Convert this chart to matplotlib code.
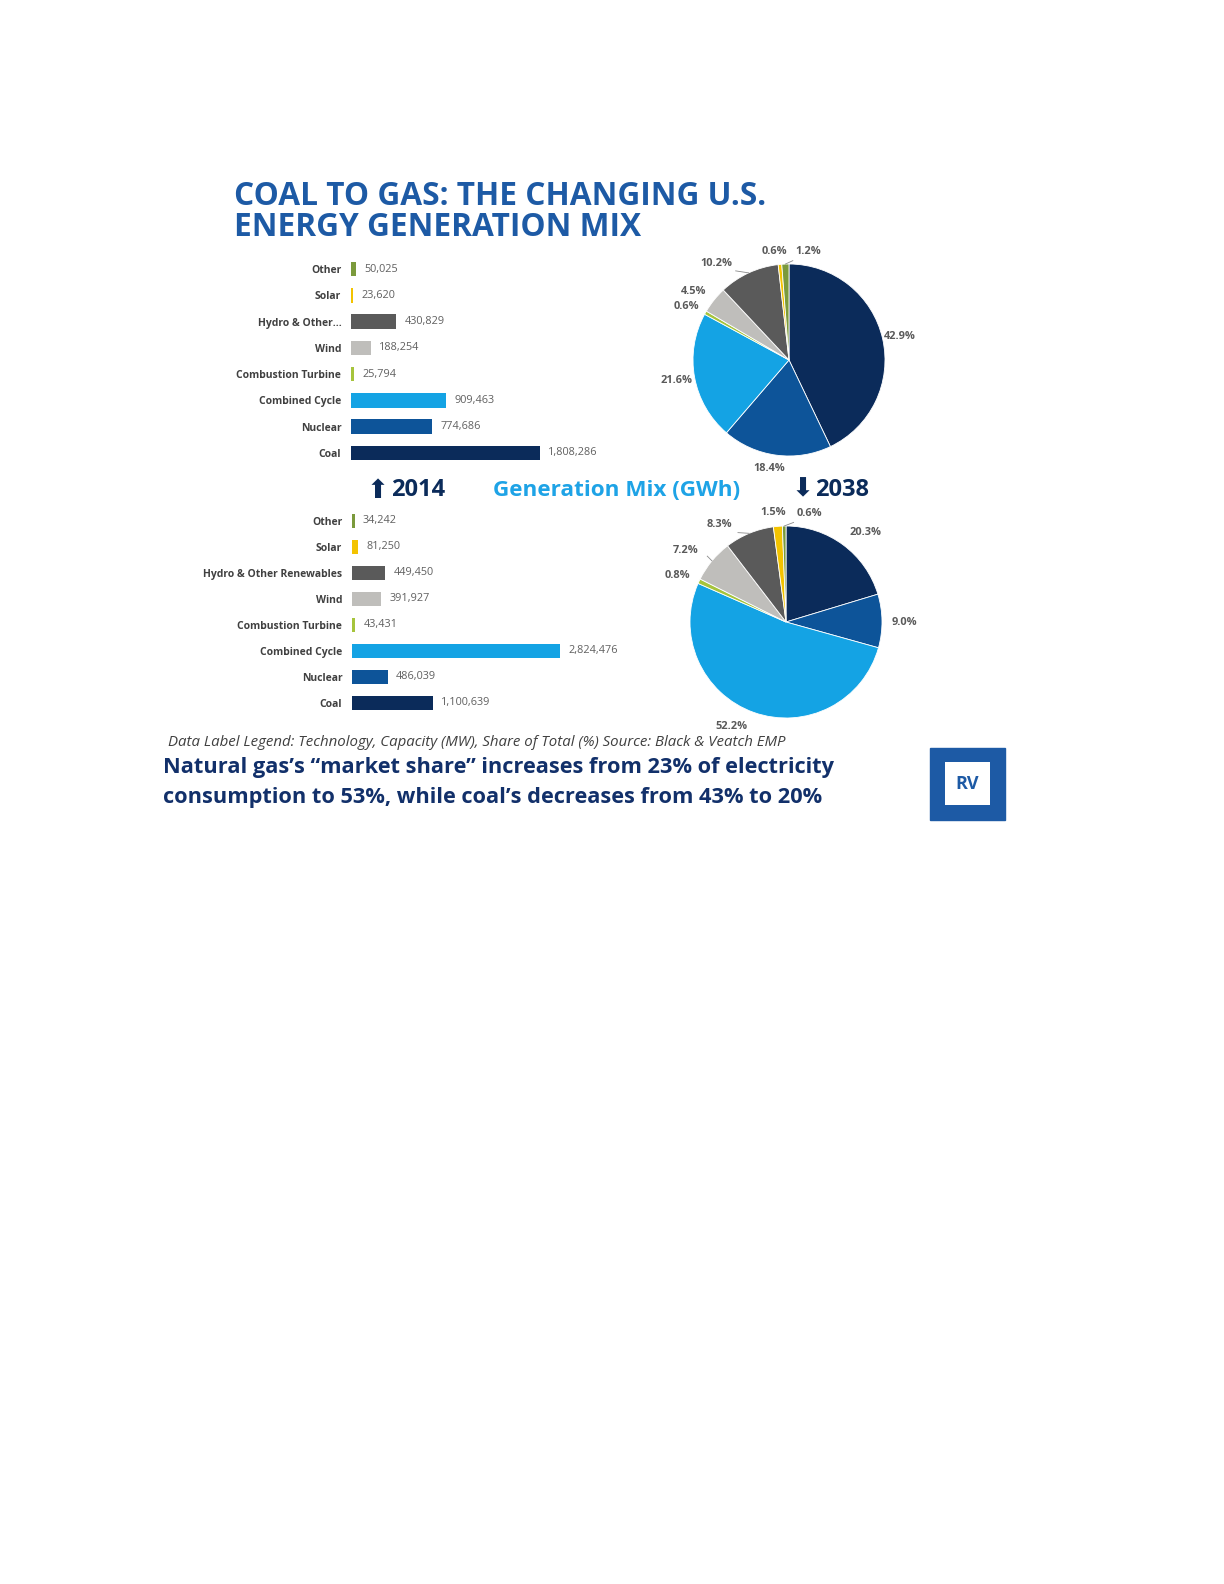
import numpy as np
import matplotlib
matplotlib.use("Agg")
import matplotlib.pyplot as plt
from matplotlib.patches import Rectangle

plt.rcParams['font.family'] = ['Open Sans', 'DejaVu Sans']

W, H = 1224, 1584

# data
techs = ["Coal", "Nuclear", "Combined Cycle", "Combustion Turbine",
         "Wind", "Hydro & Other Renewables", "Solar", "Other"]
techs_2014 = ["Coal", "Nuclear", "Combined Cycle", "Combustion Turbine",
              "Wind", "Hydro & Other\u2026", "Solar", "Other"]
cap_2014 = [1808286, 774686, 909463, 25794, 188254, 430829, 23620, 50025]
cap_2038 = [1100639, 486039, 2824476, 43431, 391927, 449450, 81250, 34242]
share_2014 = [42.9, 18.4, 21.6, 0.6, 4.5, 10.2, 0.6, 1.2]
share_2038 = [20.3, 9.0, 52.2, 0.8, 7.2, 8.3, 1.5, 0.6]

colors = ["#0b2b5a", "#0d5499", "#14a3e4", "#a6c43c",
          "#bfbebb", "#5a5a5a", "#f3c300", "#7b9a3c"]

# label layout for the pies (angle nudge in degrees, radius factor, leader line)
nudge_2014 = [-1, -3, 0, 2, 3, 12, 2, -12]
dist_2014 = [1.18, 1.15, 1.19, 1.21, 1.22, 1.26, 1.14, 1.15]
lead_2014 = [False, False, False, False, False, True, False, True]
nudge_2038 = [-5, -1, -8, 2, 4, 12, 2, -13]
dist_2038 = [1.25, 1.23, 1.23, 1.23, 1.28, 1.23, 1.15, 1.16]
lead_2038 = [False, False, False, False, True, True, False, True]


def box(x0, y0, x1, y1):
    return [x0 / W, 1 - y1 / H, (x1 - x0) / W, (y1 - y0) / H]


def fx(x):
    return x / W


def fy(y):
    return 1 - y / H


def bar_panel(ax, names, vals, xmax):
    y = np.arange(len(vals))
    ax.barh(y, vals, height=0.55, color=colors)
    ax.set_xlim(0, xmax)
    ax.set_ylim(-0.5, len(vals) - 0.5)
    ax.set_yticks(y)
    ax.set_yticklabels(names, fontsize=7.5, fontweight='bold', color='#404040')
    ax.tick_params(axis='y', length=0, pad=7)
    ax.set_xticks([])
    for s in ax.spines.values():
        s.set_visible(False)
    for yi, v in zip(y, vals):
        ax.annotate(f"{v:,}", (v, yi), xytext=(6, 0), textcoords='offset points',
                    va='center', ha='left', fontsize=7.8, color='#606060')


def pie_panel(ax, shares, nudge, dist, lead):
    wedges, _ = ax.pie(shares, colors=colors, startangle=90, counterclock=False,
                       wedgeprops=dict(edgecolor='white', linewidth=0.6))
    ax.set_xlim(-1, 1)
    ax.set_ylim(-1, 1)
    ax.set_aspect('equal')
    for w, s, n, d, ld in zip(wedges, shares, nudge, dist, lead):
        mid = np.deg2rad((w.theta1 + w.theta2) / 2)
        ang = mid + np.deg2rad(n)
        tx, ty = d * np.cos(ang), d * np.sin(ang)
        ax.text(tx, ty, f"{s:.1f}%", ha='center', va='center', fontsize=7.9,
                fontweight='bold', color='#5a5a5a', clip_on=False)
        if ld:
            r1 = d - 0.1
            ax.plot([np.cos(mid), r1 * np.cos(ang) + (0.14 if np.cos(ang) < 0 else -0.14)],
                    [np.sin(mid), r1 * np.sin(ang)],
                    color='#8a8a8a', lw=0.6, clip_on=False)


fig = plt.figure(figsize=(W / 100, H / 100), dpi=100)
fig.patch.set_facecolor('white')

# title
fig.text(fx(234), fy(180), "COAL TO GAS: THE CHANGING U.S.\nENERGY GENERATION MIX",
         ha='left', va='top', fontsize=22.8, fontweight='bold', color='#1d5aa5',
         linespacing=0.93)

# bar panels
ax1 = fig.add_axes(box(351, 256, 640, 466))
bar_panel(ax1, techs_2014, cap_2014, 289 / 104.5 * 1e6)
ax2 = fig.add_axes(box(352, 508, 640, 716))
bar_panel(ax2, techs, cap_2038, 288 / 73.6 * 1e6)

# pie panels
ax3 = fig.add_axes(box(693, 264, 885, 456))
pie_panel(ax3, share_2014, nudge_2014, dist_2014, lead_2014)
ax4 = fig.add_axes(box(690, 526, 882, 718))
pie_panel(ax4, share_2038, nudge_2038, dist_2038, lead_2038)

# middle row
fig.text(fx(367), fy(491), "\u2b06", ha='left', va='center', fontsize=19,
         color='#0b2b5a', family=['DejaVu Sans'])
fig.text(fx(391), fy(490), "2014", ha='left', va='center', fontsize=17,
         fontweight='bold', color='#0b2b5a')
fig.text(fx(493), fy(490), "Generation Mix (GWh)", ha='left', va='center',
         fontsize=16.2, fontweight='bold', color='#1ea3e6')
fig.text(fx(792), fy(489), "\u2b07", ha='left', va='center', fontsize=19,
         color='#0b2b5a', family=['DejaVu Sans'])
fig.text(fx(815), fy(490), "2038", ha='left', va='center', fontsize=17,
         fontweight='bold', color='#0b2b5a')

# footer
fig.text(fx(168), fy(742), "Data Label Legend: Technology, Capacity (MW), Share of Total (%) "
         "Source: Black & Veatch EMP", ha='left', va='center', fontsize=10.8,
         style='italic', color='#404040')
fig.text(fx(163), fy(768), "Natural gas\u2019s \u201cmarket share\u201d increases from 23% of electricity",
         ha='left', va='center', fontsize=15.7, fontweight='bold', color='#12306a')
fig.text(fx(163), fy(797), "consumption to 53%, while coal\u2019s decreases from 43% to 20%",
         ha='left', va='center', fontsize=15.7, fontweight='bold', color='#12306a')

# logo
fig.patches.append(Rectangle((fx(930), fy(820)), 75 / W, 72 / H,
                             transform=fig.transFigure, color='#1d5aa5'))
fig.patches.append(Rectangle((fx(945), fy(805)), 45 / W, 43 / H,
                             transform=fig.transFigure, facecolor='white',
                             edgecolor='none'))
fig.text(fx(967.5), fy(784), "RV", ha='center', va='center', fontsize=13,
         fontweight='bold', color='#1d5aa5')

fig.savefig("out.png", dpi=100, facecolor='white')
